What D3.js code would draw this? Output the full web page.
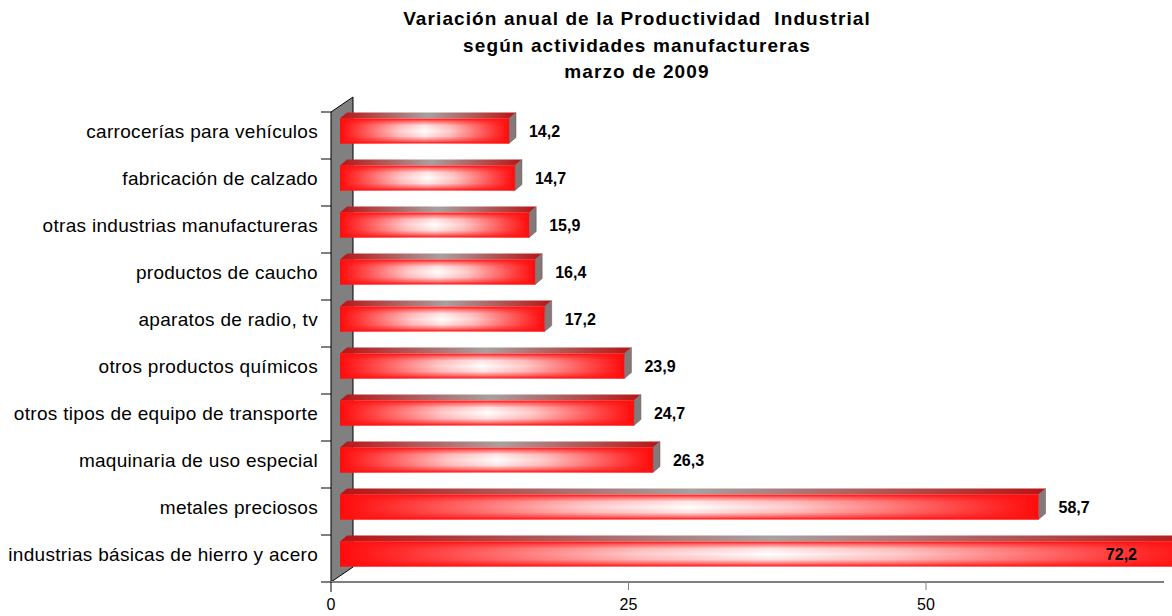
<!DOCTYPE html>
<html>
<head>
<meta charset="utf-8">
<script src="https://cdn.jsdelivr.net/npm/d3@7"></script>
<style>
body { margin: 0; background: #fff; }
svg text { font-family: 'Liberation Sans', Arial, sans-serif; fill: #000; white-space: pre; }
.title { font-size: 19px; font-weight: bold; letter-spacing: 1.1px; }
.cat { font-size: 19px; letter-spacing: 0.3px; }
.val { font-size: 16px; font-weight: bold; }
.tick { font-size: 16px; }
</style>
</head>
<body>
<svg></svg>
<script>
const titleLines = ["Variación anual de la Productividad  Industrial",
  "según actividades manufactureras", "marzo de 2009"];

const categories = [
  "carrocerías para vehículos",
  "fabricación de calzado",
  "otras industrias manufactureras",
  "productos de caucho",
  "aparatos de radio, tv",
  "otros productos químicos",
  "otros tipos de equipo de transporte",
  "maquinaria de uso especial",
  "metales preciosos",
  "industrias básicas de hierro y acero"
];
const values = [14.2, 14.7, 15.9, 16.4, 17.2, 23.9, 24.7, 26.3, 58.7, 72.2];
const xTicks = [0, 25, 50];

const width = 1172, height = 616;
const svg = d3.select("svg").attr("width", width).attr("height", height);

const x = d3.scaleLinear().domain([0, 70]).range([331, 1164]);
const y = d3.scaleBand().domain(categories).range([112, 582]);

// 3d offsets
const wallDx = 22, wallDy = -15;
const barDx = 7, barDy = -6;
const barH = 25, barShiftX = 9, barShiftY = -4.5;

const fmt = d3.formatLocale({decimal: ",", thousands: ".", grouping: [3], currency: ["", ""]}).format(".1f");

const defs = svg.append("defs");
const gFront = defs.append("linearGradient").attr("id", "front");
[[0, "#ff0a0a"], [0.12, "#ff4a4a"], [0.35, "#ffcccc"], [0.5, "#ffffff"], [0.65, "#ffcccc"], [0.88, "#ff4a4a"], [1, "#ff0a0a"]].forEach(s =>
  gFront.append("stop").attr("offset", s[0]).attr("stop-color", s[1]));
const gVert = defs.append("linearGradient").attr("id", "frontV")
  .attr("x1", 0).attr("y1", 0).attr("x2", 0).attr("y2", 1);
[[0, 1], [0.12, 0.55], [0.28, 0.12], [0.5, 0], [0.72, 0.12], [0.88, 0.55], [1, 1]].forEach(s =>
  gVert.append("stop").attr("offset", s[0]).attr("stop-color", "#ff1010").attr("stop-opacity", s[1]));
const gTop = defs.append("linearGradient").attr("id", "top");
[[0, "#b81414"], [0.5, "#a8a0a0"], [1, "#b81414"]].forEach(s =>
  gTop.append("stop").attr("offset", s[0]).attr("stop-color", s[1]));

// title
svg.append("g").selectAll("text").data(titleLines).join("text")
  .attr("class", "title")
  .attr("x", 637).attr("y", (d, i) => 25 + i * 26.5)
  .attr("text-anchor", "middle")
  .text(d => d);

// back wall
const x0 = x(0), yTop = y.range()[0], yBot = y.range()[1];
svg.append("polygon")
  .attr("points", [[x0, yTop], [x0 + wallDx, yTop + wallDy], [x0 + wallDx, yBot + wallDy], [x0, yBot]].join(" "))
  .attr("fill", "#808080").attr("stroke", "#000").attr("stroke-width", 1);

// floor line
svg.append("line")
  .attr("x1", x0).attr("x2", x(70)).attr("y1", yBot).attr("y2", yBot)
  .attr("stroke", "#808080").attr("stroke-width", 2);

// category ticks
const bounds = categories.map(c => y(c)).concat([yBot]);
svg.append("g").selectAll("line").data(bounds).join("line")
  .attr("x1", x0 - 10).attr("x2", x0).attr("y1", d => d).attr("y2", d => d)
  .attr("stroke", "#000");

// x ticks
svg.append("g").selectAll("line").data(xTicks).join("line")
  .attr("x1", d => x(d)).attr("x2", d => x(d))
  .attr("y1", yBot).attr("y2", d => d === 0 ? yBot + 10 : yBot + 8)
  .attr("stroke", d => d === 0 ? "#000" : "#808080");
svg.append("g").selectAll("text").data(xTicks).join("text")
  .attr("class", "tick")
  .attr("x", d => x(d)).attr("y", 610)
  .attr("text-anchor", "middle")
  .text(d => d);

// category labels
svg.append("g").selectAll("text").data(categories).join("text")
  .attr("class", "cat")
  .attr("x", 318).attr("y", d => y(d) + y.bandwidth() / 2 - 4)
  .attr("dy", "0.35em")
  .attr("text-anchor", "end")
  .text(d => d);

// bars
const bars = svg.append("g").selectAll("g").data(values).join("g");
const bx = () => x0 + barShiftX;
const by = (d, i) => y(categories[i]) + y.bandwidth() / 2 + barShiftY - barH / 2;
const bw = d => x(d) - x0;

bars.append("polygon")
  .attr("points", (d, i) => {
    const X = bx(), Y = by(d, i), W = bw(d);
    return [[X, Y], [X + barDx, Y + barDy], [X + W + barDx, Y + barDy], [X + W, Y]].join(" ");
  })
  .attr("fill", "url(#top)");
bars.append("polygon")
  .attr("points", (d, i) => {
    const X = bx() + bw(d), Y = by(d, i);
    return [[X, Y], [X + barDx, Y + barDy], [X + barDx, Y + barDy + barH], [X, Y + barH]].join(" ");
  })
  .attr("fill", "#847878").attr("stroke", "#6a5050").attr("stroke-width", 0.5);
bars.append("rect")
  .attr("x", bx).attr("y", by).attr("width", bw).attr("height", barH)
  .attr("fill", "url(#front)");
bars.append("rect")
  .attr("x", bx).attr("y", by).attr("width", bw).attr("height", barH)
  .attr("fill", "url(#frontV)");

// value labels
bars.append("text")
  .attr("class", "val")
  .attr("y", (d, i) => by(d, i) + barH / 2)
  .attr("dy", "0.35em")
  .each(function(d) {
    const end = bx() + bw(d);
    const t = d3.select(this);
    if (end + 60 > width) t.attr("x", 1137).attr("text-anchor", "end");
    else t.attr("x", end + 20).attr("text-anchor", "start");
  })
  .text(d => fmt(d));
</script>
</body>
</html>
